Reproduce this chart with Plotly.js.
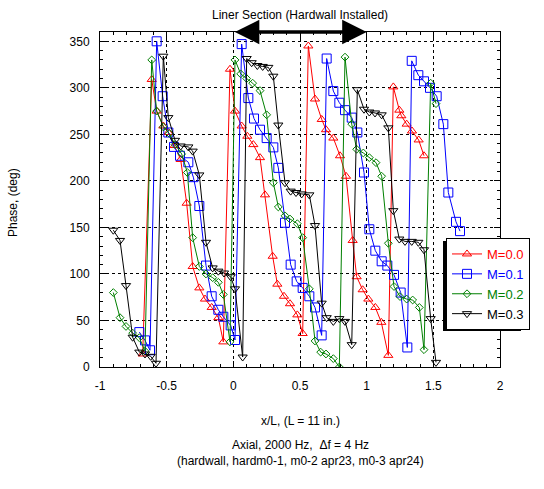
<!DOCTYPE html>
<html>
<head>
<meta charset="utf-8">
<script src="https://cdn.plot.ly/plotly-3.0.1.min.js"></script>
<style>html,body{margin:0;padding:0;background:#fff;}#chart{width:544px;height:489px;}</style>
</head>
<body>
<div id="chart"></div>
<script>
// M = 0.0
const xM00 = [-0.68, -0.612, -0.575, -0.525, -0.4875, -0.44, -0.395, -0.35, -0.305, -0.255, -0.2125, -0.1625, -0.1125, -0.075,
  -0.025, 0.0125, 0.0625, 0.105, 0.15, 0.2, 0.2375, 0.295, 0.33, 0.38, 0.425, 0.48, 0.52,
  0.5625, 0.6125, 0.663, 0.695, 0.75, 0.80, 0.845, 0.895, 0.925, 0.97, 1.0125, 1.065, 1.11, 1.1625,
  1.2, 1.245, 1.26, 1.3, 1.34, 1.39, 1.43];
const yM00 = [14, 309, 275, 259, 252, 238, 223, 176, 108, 85, 73, 64, 53, 27,
  320, 275, 259, 248, 239, 225, 185, 119, 89, 76, 68, 56, 36,
  345, 288, 266, 255, 246, 227, 205, 136, 97, 83, 73, 64, 48, 12.5,
  301, 276, 270, 261, 253.6, 244, 227];
// M = 0.1
const xM01 = [-0.705, -0.6625, -0.625, -0.575, -0.53, -0.4875, -0.445, -0.4, -0.3375, -0.3, -0.255, -0.205, -0.1625, -0.1125, -0.075, -0.02, 0.0125,
  0.0625, 0.1125, 0.155, 0.2, 0.25, 0.3, 0.3375, 0.3875, 0.43, 0.475, 0.52, 0.57, 0.6125, 0.6625,
  0.70, 0.75, 0.795, 0.8375, 0.888, 0.93, 0.98, 1.02, 1.065, 1.1125, 1.155, 1.205, 1.255, 1.305,
  1.338, 1.3875, 1.43, 1.475, 1.525, 1.575, 1.6125, 1.67, 1.70];
const yM01 = [37.5, 28.6, 18, 350, 291, 252, 236.5, 227, 220, 204, 173, 109, 76, 61.5, 54, 44.7, 29,
  347, 289, 267, 255, 246, 236, 214, 155, 110, 92, 85, 76, 64, 34,
  331.5, 296.5, 284, 276, 268, 252, 209, 148, 125, 113.6, 109, 99, 80, 21,
  329, 313.6, 307, 300, 291, 261, 187.5, 156, 146];
// M = 0.2
const xM02 = [-0.9, -0.85, -0.805, -0.755, -0.705, -0.6625,
  -0.612, -0.575, -0.525, -0.48, -0.4375, -0.3875, -0.345, -0.305, -0.255, -0.205, -0.155, -0.1125, -0.075, -0.025,
  0.0125, 0.055, 0.1, 0.145, 0.2, 0.25, 0.3, 0.3375, 0.3875, 0.425, 0.48, 0.52, 0.57, 0.6125, 0.655, 0.695, 0.75, 0.795,
  0.8375, 0.888, 0.925, 0.975, 1.02, 1.07, 1.1125, 1.1625, 1.205, 1.25, 1.3, 1.345, 1.395, 1.43,
  1.48, 1.52];
const yM02 = [80, 53, 43.6, 36.4, 31.5, 17,
  330, 275, 258, 251, 239, 229, 209, 139, 108, 100, 96, 91, 78, 27,
  330, 315, 310, 305, 297, 271, 198, 172, 162.5, 159, 154, 139, 84, 28, 16, 14, 9, 0,
  333, 261, 234, 230, 225, 219.6, 205, 133, 86.5, 75.7, 73, 72, 64, 18.6,
  305, 283];
// M = 0.3
const xM03 = [-0.9, -0.85, -0.805, -0.755, -0.705, -0.6625, -0.62, -0.58,
  -0.525, -0.4875, -0.4375, -0.395, -0.3375, -0.305, -0.255, -0.205, -0.155, -0.1125, -0.07, -0.02, 0.0125, 0.07,
  0.1, 0.1375, 0.18, 0.22, 0.2625, 0.3, 0.3375, 0.3875, 0.43, 0.47, 0.5125, 0.57, 0.6125, 0.6625, 0.70, 0.75, 0.795, 0.8375, 0.888,
  0.93, 0.98, 1.02, 1.0625, 1.1125, 1.1625, 1.2, 1.245, 1.2875, 1.338, 1.3875, 1.43, 1.48, 1.52];
const yM03 = [147, 136, 87.5, 32, 16, 14, 11.5, 4,
  334, 268, 243.6, 237.5, 236.5, 232, 206.4, 134, 106.5, 103, 101, 97, 84, 10.7,
  331.5, 327, 324, 323, 322, 312.5, 260, 198, 189, 187.5, 186, 185, 152, 68.6, 53, 49, 52, 49, 24,
  298, 277, 274, 273, 271, 257, 168, 137.5, 135, 135, 134, 126, 52, 5];

const seriesNames = ['M=0.0', 'M=0.1', 'M=0.2', 'M=0.3'];
const seriesColors = ['#ff0000', '#0000ff', '#007f00', '#000000'];
const seriesSymbols = ['triangle-up-open', 'square-open', 'diamond-open', 'triangle-down-open'];
const seriesSizes = [8, 9, 6, 8];
const xs = [xM00, xM01, xM02, xM03];
const ys = [yM00, yM01, yM02, yM03];

const xTickVals = [-1, -0.5, 0, 0.5, 1, 1.5, 2];
const xTickText = ['-1', '-0.5', '0', '0.5', '1', '1.5', '2'];
const yTickVals = [0, 50, 100, 150, 200, 250, 300, 350];
const yTickText = ['0', '50', '100', '150', '200', '250', '300', '350'];

const traces = xs.map((x, i) => ({
  x: x, y: ys[i], type: 'scatter', mode: 'lines+markers',
  name: '<span style="color:' + seriesColors[i] + '">' + seriesNames[i] + '</span>',
  line: {color: seriesColors[i], width: 1},
  marker: {symbol: seriesSymbols[i], size: seriesSizes[i], color: seriesColors[i], line: {width: 1, color: seriesColors[i]}},
  cliponaxis: true
}));

const W = 544, H = 489, L = 100, R = 44, T = 32, B = 122;
const pw = W - L - R, ph = H - T - B;
const px2x = p => (p - L) / pw;
const py2y = p => (H - B - p) / ph;

const font = {family: 'Liberation Sans, Arial, sans-serif', size: 12, color: '#000'};

// legend box estimated (px): left 446, top 238, right 526, bottom 328
const legTop = 238, legLeft = 446, legRight = 524, legBottom = 328;

const layout = {
  width: W, height: H,
  margin: {l: L, r: R, t: T, b: B},
  paper_bgcolor: '#fff', plot_bgcolor: '#fff',
  font: font,
  showlegend: true,
  legend: {
    x: px2x(legLeft), y: py2y(legTop), xanchor: 'left', yanchor: 'top',
    bgcolor: '#fff', bordercolor: '#000', borderwidth: 1,
    font: {family: 'Liberation Sans, Arial, sans-serif', size: 13}
  },
  xaxis: {
    range: [-1, 2], tickmode: 'array', tickvals: xTickVals, ticktext: xTickText,
    ticks: 'inside', ticklen: 6, tickcolor: '#000', ticklabelstandoff: 8,
    showline: true, linecolor: '#000', linewidth: 1, mirror: 'allticks',
    showgrid: true, gridcolor: '#000', griddash: 'dot', gridwidth: 1,
    zeroline: false,
    minor: {dtick: 0.1, tick0: 0, ticks: 'inside', ticklen: 3, tickcolor: '#000', showgrid: false},
    tickfont: {size: 12}
  },
  yaxis: {
    range: [0, 360], tickmode: 'array', tickvals: yTickVals, ticktext: yTickText,
    ticks: 'inside', ticklen: 6, tickcolor: '#000', ticklabelstandoff: 7,
    showline: true, linecolor: '#000', linewidth: 1, mirror: 'allticks',
    showgrid: true, gridcolor: '#000', griddash: 'dot', gridwidth: 1,
    zeroline: false,
    minor: {dtick: 10, tick0: 0, ticks: 'inside', ticklen: 3, tickcolor: '#000', showgrid: false},
    tickfont: {size: 12}
  },
  shapes: [
    {type: 'rect', xref: 'paper', yref: 'paper', layer: 'above',
     x0: px2x(legLeft - 3), x1: px2x(legRight - 3), y0: py2y(legBottom + 3), y1: py2y(legTop + 3),
     fillcolor: '#000', line: {width: 0}}
  ],
  annotations: [
    {xref: 'x', yref: 'y', x: 1, y: 360, ax: 0, ay: 360, axref: 'x', ayref: 'y',
     text: '', showarrow: true, arrowhead: 2, arrowside: 'end+start', arrowsize: 1.4, arrowwidth: 3.5, arrowcolor: '#000', standoff: 0, startstandoff: 0},
    {xref: 'x', yref: 'paper', x: 0.5, y: py2y(15), xanchor: 'center', yanchor: 'middle', text: 'Liner Section (Hardwall Installed)', showarrow: false, font: {size: 12}},
    {xref: 'paper', yref: 'paper', x: 0.5, y: py2y(421), xanchor: 'center', yanchor: 'middle', text: 'x/L, (L = 11 in.)', showarrow: false, font: {size: 12}},
    {xref: 'paper', yref: 'paper', x: 0.5, y: py2y(445), xanchor: 'center', yanchor: 'middle', text: 'Axial, 2000 Hz,  Δf = 4 Hz', showarrow: false, font: {size: 12}},
    {xref: 'paper', yref: 'paper', x: 0.5, y: py2y(461), xanchor: 'center', yanchor: 'middle', text: '(hardwall, hardm0-1, m0-2 apr23, m0-3 apr24)', showarrow: false, font: {size: 12}},
    {xref: 'paper', yref: 'paper', x: px2x(13), y: py2y(203), xanchor: 'center', yanchor: 'middle', text: 'Phase, (deg)', textangle: -90, showarrow: false, font: {size: 12}}
  ]
};

Plotly.newPlot('chart', traces, layout, {displayModeBar: false, staticPlot: true});
</script>
</body>
</html>
